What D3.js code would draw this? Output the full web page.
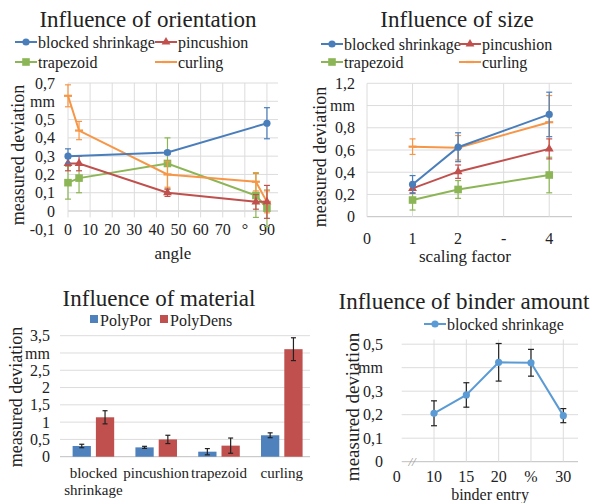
<!DOCTYPE html>
<html>
<head>
<meta charset="utf-8">
<script src="https://cdn.jsdelivr.net/npm/d3@7"></script>
<style>
  body { margin: 0; background: #fff; }
</style>
</head>
<body>
<script>
// ---- data ----
var seriesNames = ["blocked shrinkage", "pincushion", "trapezoid", "curling"];
var seriesColors = ["#4a7ebb", "#c0504d", "#8cb656", "#f79646"];
var seriesMarkers = ["circle", "triangle", "square", "dash"];

// orientation
var orientAngles = [0, 5, 45, 85, 90];
var orientBlocked = [0.30, null, 0.32, null, 0.48];
var orientBlockedErr = [0.04, null, 0.01, null, 0.085];
var orientPincushion = [0.26, 0.26, 0.10, 0.05, 0.05];
var orientPincushionErr = [0.04, 0.04, 0.02, 0.04, 0.09];
var orientTrapezoid = [0.155, 0.18, 0.26, 0.085, 0.015];
var orientTrapezoidErr = [0.09, 0.08, 0.14, 0.12, 0.10];
var orientCurling = [0.63, 0.44, 0.20, 0.16, 0.05];
var orientCurlingErr = [0.06, 0.05, 0.07, 0.05, 0.06];
var orientXTicks = [0, 10, 20, 30, 40, 50, 60, 70, 80, 90];
var orientXLabels = ["0", "10", "20", "30", "40", "50", "60", "70", "°", "90"];
var orientYTicks = [-0.1, 0, 0.1, 0.2, 0.3, 0.4, 0.5, 0.6, 0.7];
var orientYLabels = ["-0,1", "0", "0,1", "0,2", "0,3", "0,4", "0,5", "mm", "0,7"];

// size
var sizeFactors = [1, 2, 4];
var sizeBlocked = [0.29, 0.625, 0.92];
var sizeBlockedErr = [0.08, 0.13, 0.2];
var sizePincushion = [0.255, 0.405, 0.61];
var sizePincushionErr = [0.04, 0.06, 0.09];
var sizeTrapezoid = [0.15, 0.245, 0.375];
var sizeTrapezoidErr = [0.09, 0.08, 0.16];
var sizeCurling = [0.63, 0.62, 0.85];
var sizeCurlingErr = [0.07, 0.11, 0.24];
var sizeXTicks = [0, 1, 2, 3, 4];
var sizeXLabels = ["0", "1", "2", "-", "4"];
var sizeYTicks = [0, 0.2, 0.4, 0.6, 0.8, 1.0, 1.2];
var sizeYLabels = ["0", "0,2", "0,4", "0,6", "0,8", "mm", "1,2"];

// material
var materialCats = ["blocked shrinkage", "pincushion", "trapezoid", "curling"];
var materialCatLines = [["blocked", "shrinkage"], ["pincushion"], ["trapezoid"], ["curling"]];
var materialNames = ["PolyPor", "PolyDens"];
var materialColors = ["#4f81bd", "#c0504d"];
var polyPor = [0.31, 0.27, 0.145, 0.62];
var polyPorErr = [0.05, 0.03, 0.09, 0.07];
var polyDens = [1.14, 0.50, 0.32, 3.11];
var polyDensErr = [0.19, 0.12, 0.22, 0.33];
var materialYTicks = [0, 0.5, 1, 1.5, 2, 2.5, 3, 3.5];
var materialYLabels = ["0", "0,5", "1", "1,5", "2", "2,5", "mm", "3,5"];

// binder
var binderEntries = ["0", "10", "15", "20", "25", "30"];
var binderXLabels = ["0", "10", "15", "20", "%", "30"];
var binderBlocked = [null, 0.206, 0.284, 0.423, 0.421, 0.196];
var binderBlockedErr = [null, 0.053, 0.052, 0.08, 0.057, 0.03];
var binderYTicks = [0, 0.1, 0.2, 0.3, 0.4, 0.5];
var binderYLabels = ["0", "0,1", "0,2", "0,3", "mm", "0,5"];

var FONT = "'Liberation Serif'";
var svg = d3.select("body").append("svg")
  .attr("width", 595).attr("height", 503)
  .style("font-family", FONT);
svg.append("rect").attr("width", 595).attr("height", 503).attr("fill", "#fff");

var gridColor = "#dcdcdc";

function txt(sel) {
  return sel.style("font-family", FONT).attr("fill", "#222");
}

function drawMarker(g, type, cx, cy, color) {
  if (type == "circle") {
    g.append("circle").attr("cx", cx).attr("cy", cy).attr("r", 3.6).attr("fill", color);
  } else if (type == "triangle") {
    g.append("path").attr("d", d3.symbol().type(d3.symbolTriangle).size(34)())
      .attr("transform", "translate(" + cx + "," + cy + ")").attr("fill", color);
  } else if (type == "square") {
    g.append("rect").attr("x", cx - 3.8).attr("y", cy - 3.8).attr("width", 7.6).attr("height", 7.6).attr("fill", color);
  } else {
    g.append("line").attr("x1", cx - 4).attr("x2", cx + 4).attr("y1", cy).attr("y2", cy)
      .attr("stroke", color).attr("stroke-width", 2.2);
  }
}

function errorBar(g, x, y, v, e, color, cap) {
  g.append("line").attr("x1", x).attr("x2", x).attr("y1", y(v - e)).attr("y2", y(v + e))
    .attr("stroke", color).attr("stroke-width", 1.2);
  [v - e, v + e].forEach(function(t) {
    g.append("line").attr("x1", x - cap).attr("x2", x + cap).attr("y1", y(t)).attr("y2", y(t))
      .attr("stroke", color).attr("stroke-width", 1.2);
  });
}

function title(s, x, y, size) {
  txt(svg.append("text")).attr("x", x).attr("y", y).attr("text-anchor", "middle")
    .style("font-size", size + "px").text(s);
}

function yTitle(s, x, y, size) {
  txt(svg.append("text")).attr("transform", "translate(" + x + "," + y + ") rotate(-90)")
    .attr("text-anchor", "middle").attr("dy", "0.35em")
    .style("font-size", size + "px").text(s);
}

function yTickLabels(ticks, labels, y, xRight) {
  txt(svg.append("g").selectAll("text").data(ticks).enter().append("text"))
    .attr("x", xRight).attr("y", function(d) { return y(d); }).attr("dy", "0.35em")
    .attr("text-anchor", "end").style("font-size", "16px")
    .text(function(d, i) { return labels[i]; });
}

function lineLegend(items, positions) {
  items.forEach(function(it, i) {
    var p = positions[i];
    var g = svg.append("g");
    g.append("line").attr("x1", p[0]).attr("x2", p[0] + 22).attr("y1", p[1]).attr("y2", p[1])
      .attr("stroke", it.color).attr("stroke-width", 2);
    drawMarker(g, it.marker, p[0] + 11, p[1], it.color);
    txt(g.append("text")).attr("x", p[0] + 23).attr("y", p[1]).attr("dy", "0.35em")
      .style("font-size", "16px").text(it.name);
  });
}

function lineSeries(xVals, yVals, errs, x, y, color, marker, errColor) {
  var pts = [];
  xVals.forEach(function(xv, i) {
    if (yVals[i] != null) pts.push({x: xv, y: yVals[i], e: errs[i]});
  });
  var g = svg.append("g");
  pts.forEach(function(p) {
    errorBar(g, x(p.x), y, p.y, p.e, errColor || color, 3);
  });
  g.append("path").datum(pts)
    .attr("d", d3.line().x(function(d) { return x(d.x); }).y(function(d) { return y(d.y); }))
    .attr("fill", "none").attr("stroke", color).attr("stroke-width", 2);
  pts.forEach(function(p) { drawMarker(g, marker, x(p.x), y(p.y), color); });
}

// ---------- chart 1: orientation ----------
(function() {
  var x = d3.scaleLinear().domain([0, 95]).range([68, 278]);
  var y = d3.scaleLinear().domain([-0.1, 0.7]).range([229.3, 83]);
  var g = svg.append("g");
  g.selectAll(".hg").data(orientYTicks.filter(function(d) { return d >= 0; })).enter().append("line")
    .attr("x1", 68).attr("x2", 278).attr("y1", function(d) { return y(d); }).attr("y2", function(d) { return y(d); })
    .attr("stroke", function(d) { return d == 0 ? "#bfbfbf" : gridColor; });
  g.selectAll(".vg").data(orientXTicks).enter().append("line")
    .attr("x1", function(d) { return x(d); }).attr("x2", function(d) { return x(d); })
    .attr("y1", y(0.7)).attr("y2", y(-0.035)).attr("stroke", gridColor);
  yTickLabels(orientYTicks, orientYLabels, y, 55);
  txt(svg.append("g").selectAll("text").data(orientXTicks).enter().append("text"))
    .attr("x", function(d) { return x(d); }).attr("y", y(-0.1)).attr("dy", "0.35em")
    .attr("text-anchor", "middle").style("font-size", "16px")
    .text(function(d, i) { return orientXLabels[i]; });
  var ys = [orientBlocked, orientPincushion, orientTrapezoid, orientCurling];
  var es = [orientBlockedErr, orientPincushionErr, orientTrapezoidErr, orientCurlingErr];
  [2, 3, 1, 0].forEach(function(k) {
    lineSeries(orientAngles, ys[k], es[k], x, y, seriesColors[k], seriesMarkers[k]);
  });
  title("Influence of orientation", 148, 27, 23);
  lineLegend(seriesNames.map(function(n, i) { return {name: n, color: seriesColors[i], marker: seriesMarkers[i]}; }),
    [[15, 42], [155, 42], [15, 62], [155, 62]]);
  yTitle("measured deviation", 18, 155, 18);
  title("angle", 173, 259, 17);
})();

// ---------- chart 2: size ----------
(function() {
  var x = d3.scaleLinear().domain([0, 4.5]).range([367, 572]);
  var y = d3.scaleLinear().domain([0, 1.2]).range([216.7, 83.3]);
  var g = svg.append("g");
  g.selectAll(".hg").data(sizeYTicks).enter().append("line")
    .attr("x1", 367).attr("x2", 572).attr("y1", function(d) { return y(d); }).attr("y2", function(d) { return y(d); })
    .attr("stroke", function(d) { return d == 0 ? "#bfbfbf" : gridColor; });
  g.selectAll(".vg").data(sizeXTicks).enter().append("line")
    .attr("x1", function(d) { return x(d); }).attr("x2", function(d) { return x(d); })
    .attr("y1", y(1.2)).attr("y2", y(0)).attr("stroke", gridColor);
  yTickLabels(sizeYTicks, sizeYLabels, y, 355);
  txt(svg.append("g").selectAll("text").data(sizeXTicks).enter().append("text"))
    .attr("x", function(d) { return x(d); }).attr("y", 238).attr("dy", "0.35em")
    .attr("text-anchor", "middle").style("font-size", "16px")
    .text(function(d, i) { return sizeXLabels[i]; });
  var ys = [sizeBlocked, sizePincushion, sizeTrapezoid, sizeCurling];
  var es = [sizeBlockedErr, sizePincushionErr, sizeTrapezoidErr, sizeCurlingErr];
  [2, 3, 1, 0].forEach(function(k) {
    lineSeries(sizeFactors, ys[k], es[k], x, y, seriesColors[k], seriesMarkers[k]);
  });
  title("Influence of size", 457, 27, 23);
  lineLegend(seriesNames.map(function(n, i) { return {name: n, color: seriesColors[i], marker: seriesMarkers[i]}; }),
    [[321, 44], [459, 44], [321, 62], [459, 62]]);
  yTitle("measured deviation", 320, 157, 18);
  title("scaling factor", 465, 262, 17);
})();

// ---------- chart 3: material ----------
(function() {
  var x0 = d3.scaleBand().domain(materialCats).range([62, 313.2]).paddingInner(0.338).paddingOuter(0.169);
  var x1 = d3.scaleBand().domain(materialNames).range([0, x0.bandwidth()]).paddingInner(0.215);
  var y = d3.scaleLinear().domain([0, 3.5]).range([456.7, 335.7]);
  var g = svg.append("g");
  g.selectAll(".hg").data(materialYTicks).enter().append("line")
    .attr("x1", 60).attr("x2", 310).attr("y1", function(d) { return y(d); }).attr("y2", function(d) { return y(d); })
    .attr("stroke", function(d) { return d == 0 ? "#bfbfbf" : gridColor; });
  yTickLabels(materialYTicks, materialYLabels, y, 50);
  var vals = [polyPor, polyDens];
  var errs = [polyPorErr, polyDensErr];
  materialNames.forEach(function(m, k) {
    materialCats.forEach(function(c, i) {
      var bx = x0(c) + x1(m);
      g.append("rect").attr("x", bx).attr("y", y(vals[k][i])).attr("width", x1.bandwidth())
        .attr("height", y(0) - y(vals[k][i])).attr("fill", materialColors[k]);
      errorBar(g, bx + x1.bandwidth() / 2, y, vals[k][i], errs[k][i], "#222", 2.5);
    });
  });
  materialCats.forEach(function(c, i) {
    var t = txt(svg.append("text")).attr("x", x0(c) + x0.bandwidth() / 2).attr("y", 478)
      .attr("text-anchor", "middle").style("font-size", "15px");
    materialCatLines[i].forEach(function(line, j) {
      t.append("tspan").attr("x", x0(c) + x0.bandwidth() / 2).attr("dy", j == 0 ? 0 : 17).text(line);
    });
  });
  title("Influence of material", 159, 306, 23);
  // legend
  var lx = [90, 160];
  materialNames.forEach(function(m, k) {
    svg.append("rect").attr("x", lx[k]).attr("y", 315).attr("width", 8).attr("height", 8).attr("fill", materialColors[k]);
    txt(svg.append("text")).attr("x", lx[k] + 10).attr("y", 320).attr("dy", "0.35em")
      .style("font-size", "16px").text(m);
  });
  yTitle("measured deviation", 16, 397, 18);
})();

// ---------- chart 4: binder ----------
(function() {
  var x = d3.scalePoint().domain(binderEntries).range([401.7, 563.3]);
  var y = d3.scaleLinear().domain([0, 0.52]).range([461.7, 339.5]);
  var g = svg.append("g");
  g.selectAll(".hg").data(binderYTicks).enter().append("line")
    .attr("x1", 401.7).attr("x2", 578).attr("y1", function(d) { return y(d); }).attr("y2", function(d) { return y(d); })
    .attr("stroke", function(d) { return d == 0 ? "#bfbfbf" : gridColor; });
  g.selectAll(".vg").data(binderEntries.slice(1)).enter().append("line")
    .attr("x1", function(d) { return x(d); }).attr("x2", function(d) { return x(d); })
    .attr("y1", y(0.52)).attr("y2", y(0)).attr("stroke", gridColor);
  txt(svg.append("text")).attr("x", 412).attr("y", y(0)).attr("dy", "0.35em").attr("text-anchor", "middle")
    .style("font-size", "13px").style("font-style", "italic").attr("fill", "#999").text("//");
  yTickLabels(binderYTicks, binderYLabels, y, 383);
  txt(svg.append("g").selectAll("text").data(binderEntries).enter().append("text"))
    .attr("x", function(d, i) { return i == 0 ? x(d) - 5 : x(d); }).attr("y", 476).attr("dy", "0.35em")
    .attr("text-anchor", "middle").style("font-size", "16px")
    .text(function(d, i) { return binderXLabels[i]; });
  var pts = [];
  binderEntries.forEach(function(e, i) {
    if (binderBlocked[i] != null) pts.push({x: e, y: binderBlocked[i], e: binderBlockedErr[i]});
  });
  pts.forEach(function(p) { errorBar(g, x(p.x), y, p.y, p.e, "#222", 3); });
  g.append("path").datum(pts)
    .attr("d", d3.line().x(function(d) { return x(d.x); }).y(function(d) { return y(d.y); }))
    .attr("fill", "none").attr("stroke", "#5b9bd5").attr("stroke-width", 2);
  pts.forEach(function(p) { drawMarker(g, "circle", x(p.x), y(p.y), "#5b9bd5"); });
  title("Influence of binder amount", 464, 309, 23);
  lineLegend([{name: "blocked shrinkage", color: "#5b9bd5", marker: "circle"}], [[424, 324]]);
  yTitle("measured deviation", 352, 407, 19);
  title("binder entry", 490, 500, 16);
})();
</script>
</body>
</html>
